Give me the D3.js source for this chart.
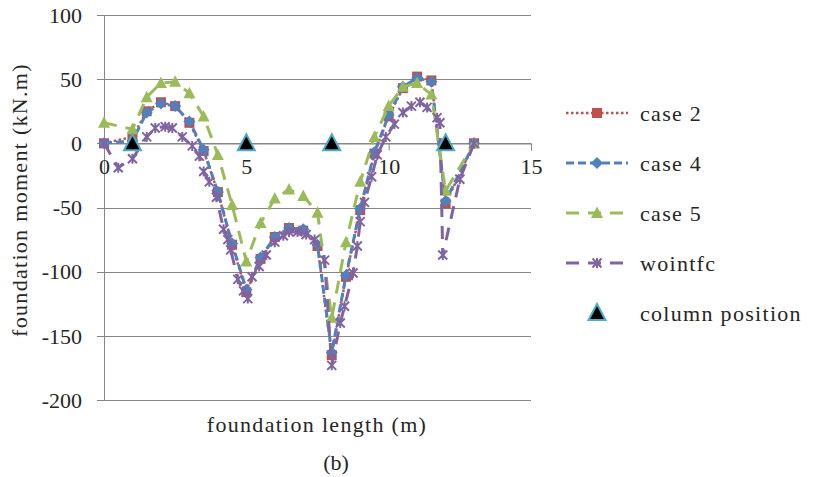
<!DOCTYPE html>
<html>
<head>
<meta charset="utf-8">
<script src="https://cdn.jsdelivr.net/npm/d3@7"></script>
<style>
  body { margin: 0; background: #fff; }
</style>
</head>
<body>
<svg id="chart" width="813" height="477"></svg>
<script>
// values
const xCase = [0, 1, 1.5, 2, 2.5, 3, 3.5, 4, 4.5, 5, 5.5, 6, 6.5, 7, 7.5, 8, 8.5, 9, 9.5, 10, 10.5, 11, 11.5, 12, 13];
const case2 = [0, 5, 25, 32, 29, 16, -6, -38, -79, -116, -90, -73, -66, -68, -80, -165, -104, -52, -8, 21, 43, 52, 49, -47, 0];
const case4 = [0, 2, 24, 31, 29, 17, -5, -38, -78, -114, -89, -73, -66, -67, -79, -163, -103, -51, -7, 22, 44, 51, 48, -45, 0];
const case5 = [16, 11, 36, 47, 48, 39, 21, -9, -48, -92, -62, -43, -36, -41, -54, -136, -77, -30, 5, 29, 44, 47, 38, -37, 0];

const xWoint = [0, 0.5, 1, 1.5, 1.8, 2.15, 2.4, 2.75, 3.1, 3.35, 3.5, 3.7, 3.95, 4.2, 4.35, 4.45, 4.7, 4.9, 5.05, 5.2,
  5.45, 5.7, 6, 6.3, 6.5, 6.8, 7.1, 7.4, 7.75, 8, 8.3, 8.45, 8.75, 8.9, 9, 9.15, 9.4, 9.6, 9.9, 10.2,
  10.5, 10.8, 11.1, 11.35, 11.7, 11.8, 11.9, 12.5, 13];
const woint = [0, -19, -12, 5, 12, 13, 12, 5, -2, -10, -22, -30, -42, -67, -75, -83, -106, -115, -121, -104,
  -96, -87, -77, -72, -69, -69, -71, -75, -91, -173, -140, -127, -101, -80, -61, -46, -26, -9, 5, 15,
  24, 29, 32, 28, 20, 16, -87, -28, 0];

const colX = [1, 5, 8, 12];
const colY = [0, 0, 0, 0];

const xTicks = [0, 5, 10, 15];
const yTicks = [100, 50, 0, -50, -100, -150, -200];

const FONT = "'Liberation Serif', 'Times New Roman', 'DejaVu Serif', serif";
const textColor = "#262626";

const svg = d3.select("#chart");
const x = d3.scaleLinear().domain([0, 15]).range([104, 531]);
const y = d3.scaleLinear().domain([-200, 100]).range([400, 15]);

const gridColor = "#868686";

// horizontal gridlines (extend left as tick marks)
svg.append("g")
  .selectAll("line")
  .data(yTicks)
  .join("line")
  .attr("x1", 97).attr("x2", x(15))
  .attr("y1", d => Math.round(y(d)) + 0.5).attr("y2", d => Math.round(y(d)) + 0.5)
  .attr("stroke", gridColor).attr("stroke-width", 1);

// y axis line
svg.append("line")
  .attr("x1", x(0) + 0.5).attr("x2", x(0) + 0.5)
  .attr("y1", y(100)).attr("y2", y(-200))
  .attr("stroke", gridColor);

// x axis at y = 0 with ticks below
const xAxis = svg.append("g")
  .attr("transform", `translate(0,${Math.round(y(0)) + 0.5})`)
  .call(d3.axisBottom(x).tickValues(xTicks).tickSize(7).tickPadding(8).tickFormat(d3.format("d")));
xAxis.attr("font-family", FONT);
xAxis.select(".domain").attr("stroke", gridColor);
xAxis.selectAll(".tick line").attr("stroke", gridColor);
xAxis.selectAll("text").attr("font-size", 22).attr("font-family", FONT).attr("fill", textColor);

// y tick labels
svg.append("g")
  .selectAll("text")
  .data(yTicks)
  .join("text")
  .attr("x", 82).attr("y", d => y(d))
  .attr("dy", "0.35em")
  .attr("text-anchor", "end")
  .attr("font-family", FONT).attr("fill", textColor)
  .attr("font-size", 22)
  .text(d => d);

// axis titles
svg.append("text")
  .attr("x", 317).attr("y", 432)
  .attr("text-anchor", "middle").attr("font-size", 22).attr("letter-spacing", 1.3)
  .attr("font-family", FONT).attr("fill", textColor)
  .text("foundation length (m)");
svg.append("text")
  .attr("transform", "translate(27,200) rotate(-90)")
  .attr("text-anchor", "middle").attr("font-size", 22).attr("letter-spacing", 1.3)
  .attr("font-family", FONT).attr("fill", textColor)
  .text("foundation moment (kN.m)");
svg.append("text")
  .attr("x", 336).attr("y", 470)
  .attr("text-anchor", "middle").attr("font-size", 22)
  .attr("font-family", FONT).attr("fill", textColor)
  .text("(b)");

const series = [
  { name: "case 2", xs: xCase, ys: case2, color: "#c0504d", dash: "2.5,2.5", width: 2.5, marker: "square" },
  { name: "case 4", xs: xCase, ys: case4, color: "#4f81bd", dash: "8,4", width: 3, marker: "diamond" },
  { name: "case 5", xs: xCase, ys: case5, color: "#9bbb59", dash: "13,9", width: 3, marker: "triangle" },
  { name: "wointfc", xs: xWoint, ys: woint, color: "#8064a2", dash: "13,9", width: 3, marker: "cross" }
];

const line = d3.line().x(d => x(d[0])).y(d => y(d[1]));

function drawMarker(g, type, color, cx, cy) {
  if (type === "square") {
    g.append("rect").attr("x", cx - 5).attr("y", cy - 5).attr("width", 10).attr("height", 10)
      .attr("fill", color);
  } else if (type === "diamond") {
    g.append("path").attr("d", `M${cx},${cy - 6}L${cx + 6},${cy}L${cx},${cy + 6}L${cx - 6},${cy}Z`)
      .attr("fill", color);
  } else if (type === "triangle") {
    g.append("path").attr("d", `M${cx},${cy - 6.5}L${cx + 6},${cy + 5}L${cx - 6},${cy + 5}Z`)
      .attr("fill", color);
  } else if (type === "cross") {
    g.append("path").attr("d", `M${cx - 4.5},${cy - 4.5}L${cx + 4.5},${cy + 4.5}M${cx - 4.5},${cy + 4.5}L${cx + 4.5},${cy - 4.5}M${cx},${cy - 5}L${cx},${cy + 5}`)
      .attr("stroke", color).attr("stroke-width", 2).attr("fill", "none");
  } else if (type === "column") {
    g.append("path").attr("d", `M${cx},${cy - 9}L${cx + 8.5},${cy + 7}L${cx - 8.5},${cy + 7}Z`)
      .attr("fill", "#000").attr("stroke", "#4bacc6").attr("stroke-width", 2);
  }
}

series.forEach(s => {
  const pts = s.xs.map((v, i) => [v, s.ys[i]]);
  const g = svg.append("g");
  g.append("path")
    .attr("d", line(pts))
    .attr("fill", "none")
    .attr("stroke", s.color)
    .attr("stroke-width", s.width)
    .attr("stroke-dasharray", s.dash);
  pts.forEach(p => drawMarker(g, s.marker, s.color, x(p[0]), y(p[1])));
});

// column positions
const colG = svg.append("g");
colX.forEach((v, i) => drawMarker(colG, "column", null, x(v), y(colY[i])));

// legend
const legendY = [113, 163, 213, 263, 313];
const legend = svg.append("g");
series.forEach((s, i) => {
  const ly = legendY[i];
  legend.append("line")
    .attr("x1", 566).attr("x2", 628).attr("y1", ly).attr("y2", ly)
    .attr("stroke", s.color).attr("stroke-width", s.width).attr("stroke-dasharray", s.dash);
  drawMarker(legend, s.marker, s.color, 597, ly);
  legend.append("text").attr("x", 640).attr("y", ly).attr("dy", "0.35em")
    .attr("font-family", FONT).attr("fill", textColor)
    .attr("font-size", 22).attr("letter-spacing", 1.3).text(s.name);
});
drawMarker(legend, "column", null, 597, legendY[4]);
legend.append("text").attr("x", 640).attr("y", legendY[4]).attr("dy", "0.35em")
  .attr("font-family", FONT).attr("fill", textColor)
  .attr("font-size", 22).attr("letter-spacing", 1.3).text("column position");
</script>
</body>
</html>
